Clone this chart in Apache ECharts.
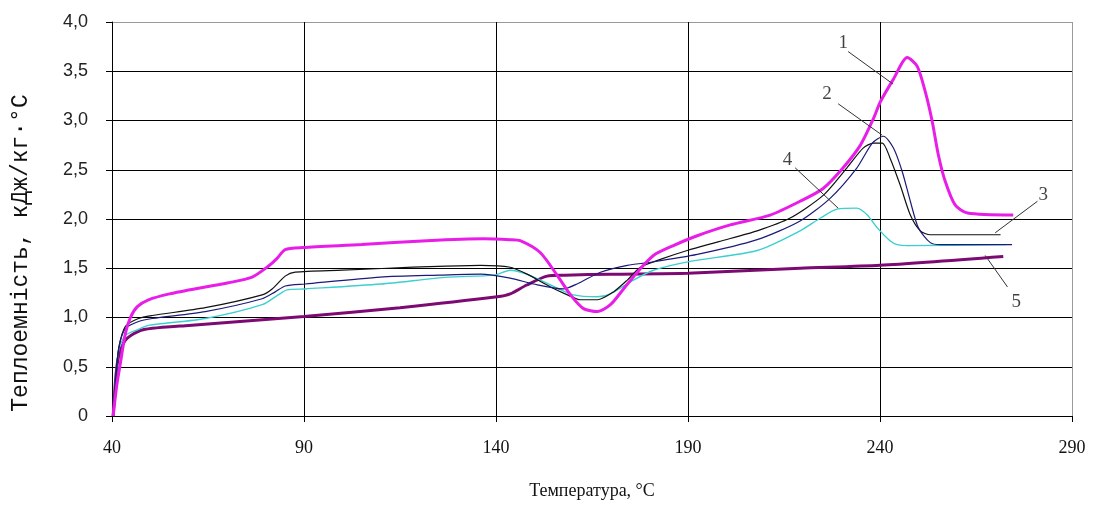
<!DOCTYPE html>
<html>
<head>
<meta charset="utf-8">
<script src="https://cdn.jsdelivr.net/npm/echarts@6/dist/echarts.min.js"></script>
<style>
html,body{margin:0;padding:0;background:#fff;}
#chart{width:1097px;height:505px;}
</style>
</head>
<body>
<div id="chart"></div>
<script>
// Axis ticks
var xTicks = [40, 90, 140, 190, 240, 290];
var yTicks = [0, 0.5, 1.0, 1.5, 2.0, 2.5, 3.0, 3.5, 4.0];

// Curve 1 (magenta)
var t1 = [40.3, 41.2, 42.2, 43.5, 44.8, 46.6, 49.5, 55, 64.3, 70, 76.5, 80.7, 83, 85.1, 89.8, 105, 122, 136.7, 143.7, 146.3, 151.5, 155.9, 159.4, 162.8, 166.4, 169.8, 173.2, 176.8, 181, 186.2, 192.4, 201, 211.4, 219.2, 225.2, 230.4, 234.9, 238.3, 240.1, 243.5, 247.1, 249.7, 251.8, 253.6, 255.2, 257, 259.6, 262.8, 274.7];
var c1 = [0, 0.3, 0.54, 0.84, 1.0, 1.11, 1.18, 1.24, 1.31, 1.35, 1.41, 1.52, 1.60, 1.69, 1.71, 1.74, 1.78, 1.80, 1.79, 1.78, 1.66, 1.43, 1.23, 1.09, 1.06, 1.13, 1.29, 1.46, 1.63, 1.73, 1.83, 1.94, 2.04, 2.18, 2.31, 2.52, 2.75, 3.02, 3.19, 3.42, 3.64, 3.55, 3.29, 2.99, 2.65, 2.38, 2.14, 2.06, 2.04];

// Curve 2 (navy)
var t2 = [40.3, 41, 41.8, 43.5, 46.9, 50.5, 64.3, 79.1, 82.5, 85.1, 90.3, 109.9, 125, 136, 143.7, 149.8, 157.5, 161.1, 167.2, 174.2, 180.2, 192.4, 208, 219.2, 227, 234, 238, 240.9, 243.5, 245.8, 247.9, 250, 253.1, 255.7, 274.4];
var c2 = [0, 0.4, 0.7, 0.89, 0.96, 0.99, 1.06, 1.19, 1.26, 1.32, 1.34, 1.41, 1.43, 1.44, 1.40, 1.34, 1.29, 1.34, 1.46, 1.53, 1.56, 1.64, 1.79, 1.98, 2.21, 2.52, 2.77, 2.84, 2.72, 2.48, 2.18, 1.91, 1.76, 1.74, 1.74];

// Curve 3 (black)
var t3 = [40.3, 41, 41.8, 43.5, 46.9, 50.5, 64.3, 79.1, 81.7, 85.1, 87.7, 100, 111.7, 125, 136, 143.7, 148.1, 154.2, 158.6, 162, 166.4, 170.6, 174.2, 177.6, 182.8, 189.8, 198, 208, 216.6, 225.2, 231.4, 235.6, 238.3, 240.6, 242.6, 245.3, 247.9, 250.5, 253.1, 271.4];
var c3 = [0, 0.4, 0.7, 0.91, 0.99, 1.02, 1.10, 1.23, 1.29, 1.42, 1.46, 1.48, 1.50, 1.52, 1.53, 1.51, 1.44, 1.31, 1.23, 1.18, 1.18, 1.26, 1.38, 1.51, 1.59, 1.68, 1.77, 1.88, 2.01, 2.24, 2.52, 2.72, 2.77, 2.77, 2.62, 2.34, 2.04, 1.88, 1.84, 1.84];

// Curve 4 (cyan)
var t4 = [40.3, 41, 41.8, 43.5, 46.9, 49.5, 64.3, 79.1, 83.3, 85.6, 90.3, 110, 127.4, 139.4, 143.7, 148, 154.2, 160.2, 166.4, 169.8, 175.8, 181, 190.6, 208, 219.2, 224.5, 228.8, 234, 236.7, 239.3, 242.6, 244.5, 247.1, 272.9];
var c4 = [0, 0.4, 0.68, 0.82, 0.88, 0.92, 0.99, 1.13, 1.23, 1.28, 1.29, 1.34, 1.41, 1.43, 1.48, 1.44, 1.33, 1.23, 1.21, 1.24, 1.38, 1.48, 1.57, 1.68, 1.88, 2.01, 2.10, 2.11, 2.04, 1.91, 1.78, 1.74, 1.73, 1.74];

// Curve 5 (purple)
var t5 = [40.3, 41, 41.7, 43.5, 46.9, 50.5, 60, 90, 115, 140.3, 143.7, 148, 153.3, 158, 170, 190, 219.2, 240, 272.1];
var c5 = [0, 0.4, 0.6, 0.77, 0.86, 0.89, 0.92, 1.01, 1.10, 1.21, 1.24, 1.33, 1.42, 1.43, 1.44, 1.45, 1.50, 1.53, 1.62];

// Curve labels and leader lines (data coordinates)
var labelNames = ['1', '2', '3', '4', '5'];
var labelX = [230.4, 226.2, 282.5, 215.9, 275.5];
var labelY = [3.79, 3.27, 2.24, 2.60, 1.16];
var leadFromX = [231.7, 229.1, 281.0, 217.9, 273.2];
var leadFromY = [3.70, 3.17, 2.18, 2.52, 1.31];
var leadToX = [243.4, 240.6, 270.0, 229.1, 267.4];
var leadToY = [3.37, 2.85, 1.86, 2.11, 1.63];

function pairs(t, c) { return t.map(function (v, i) { return [v, c[i]]; }); }

var chart = echarts.init(document.getElementById('chart'));

function lineSeries(name, t, c, color, width) {
  return {
    name: name, type: 'line', data: pairs(t, c), showSymbol: false, symbol: 'none',
    smooth: 0.25,
    lineStyle: { color: color, width: width }, animation: false, z: 3
  };
}

var leaderData = labelNames.map(function (n, i) {
  return { coords: [[leadFromX[i], leadFromY[i]], [leadToX[i], leadToY[i]]] };
});
var labelData = labelNames.map(function (n, i) { return { value: [labelX[i], labelY[i]], name: n }; });

var option = {
  backgroundColor: '#ffffff',
  animation: false,
  grid: { left: 112, right: 25, top: 22, bottom: 85, containLabel: false },
  xAxis: {
    type: 'value', min: 40, max: 290, interval: 50,
    name: 'Температура, °С', nameLocation: 'middle', nameGap: 66,
    nameTextStyle: { fontFamily: 'Liberation Serif', fontSize: 18, color: '#111' },
    axisLine: { show: true, onZero: false, lineStyle: { color: '#000', width: 1 } },
    axisTick: { show: true, length: 6, lineStyle: { color: '#000' } },
    axisLabel: { margin: 23, fontFamily: 'Liberation Serif', fontSize: 18, color: '#111',
      formatter: function (v) { return xTicks.indexOf(v) >= 0 ? String(v) : ''; } },
    splitLine: { show: true, lineStyle: { color: ['#000', '#000', '#000', '#000', '#000', '#999'], width: 1 } }
  },
  yAxis: {
    type: 'value', min: 0, max: 4, interval: 0.5,
    axisLine: { show: true, onZero: false, lineStyle: { color: '#000', width: 1 } },
    axisTick: { show: true, length: 6, lineStyle: { color: '#000' } },
    axisLabel: { margin: 24, fontFamily: 'Liberation Sans', fontSize: 18, color: '#222',
      formatter: function (v) {
        if (yTicks.indexOf(v) < 0) return '';
        return v === 0 ? '0' : v.toFixed(1).replace('.', ',');
      } },
    splitLine: { show: true, lineStyle: { color: ['#000', '#000', '#000', '#000', '#000', '#000', '#000', '#000', '#999'], width: 1 } }
  },
  graphic: [{
    type: 'text', x: 21, y: 253, rotation: Math.PI / 2,
    style: { text: 'Теплоемність, кДж/кг·°С', fontFamily: 'Liberation Mono', fontSize: 23,
      fill: '#111', align: 'center', verticalAlign: 'middle' }
  }],
  series: [
    lineSeries('5', t5, c5, '#7d0a72', 3),
    lineSeries('4', t4, c4, '#3ccfcf', 1.4),
    lineSeries('3', t3, c3, '#111111', 1.2),
    lineSeries('2', t2, c2, '#1b1b78', 1.2),
    lineSeries('1', t1, c1, '#e81ee8', 3),
    {
      type: 'lines', coordinateSystem: 'cartesian2d', data: leaderData, silent: true,
      lineStyle: { color: '#333', width: 1, opacity: 1 }, z: 5, animation: false
    },
    {
      type: 'scatter', data: labelData, symbolSize: 0, silent: true, z: 6,
      label: { show: true, position: 'inside', formatter: function (p) { return p.name; },
        fontFamily: 'Liberation Serif', fontSize: 19, color: '#111' }
    }
  ]
};
chart.setOption(option);
</script>
</body>
</html>
